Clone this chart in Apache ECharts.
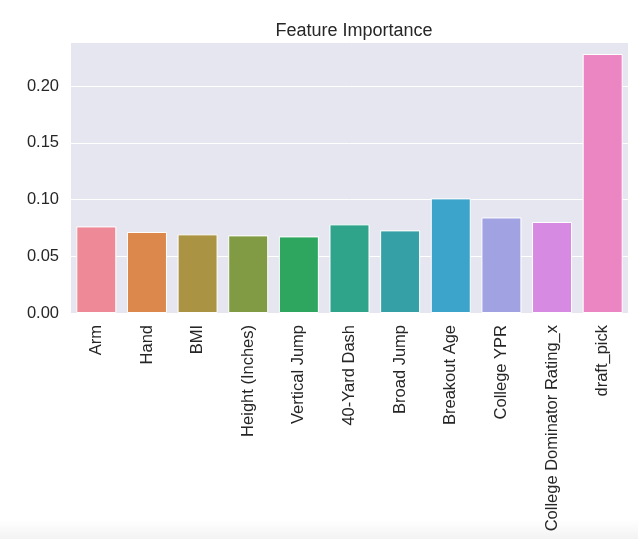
<!DOCTYPE html>
<html><head><meta charset="utf-8">
<script src="https://cdn.jsdelivr.net/npm/echarts@6/dist/echarts.min.js"></script>
<style>html,body{margin:0;padding:0;background:#fff}#c{width:638px;height:539px}</style>
</head><body><div id="c"></div>
<script>
const categories = ["Arm","Hand","BMI","Height (Inches)","Vertical Jump","40-Yard Dash","Broad Jump","Breakout Age","College YPR","College Dominator Rating_x","draft_pick"];
const importance = [0.0763,0.0714,0.0693,0.0684,0.0675,0.0781,0.0728,0.1010,0.0842,0.0802,0.2282];
const barColors = ["#ee8a97","#dc884c","#ab9344","#809b43","#2ea660","#30a38b","#35a0a5","#3ca3cb","#a0a2e2","#d78ae2","#ec86c3"];
const yTicks = [0, 0.05, 0.10, 0.15, 0.20];

const chart = echarts.init(document.getElementById('c'), null, {renderer:'canvas'});
const font = '"Liberation Sans", Arial, Helvetica, sans-serif';
chart.setOption({
  animation:false,
  backgroundColor:'#ffffff',
  title:{text:'Feature Importance', left:349, top:17, textAlign:'center',
    textStyle:{fontFamily:font, fontSize:18, fontWeight:'normal', color:'#262626'}},
  grid:{left:71, right:10, top:42, bottom:226, show:true, backgroundColor:'#e6e6f0', borderWidth:0},
  xAxis:{type:'category', data:categories,
    axisLine:{show:false}, axisTick:{show:false},
    axisLabel:{rotate:90, margin:12, fontFamily:font, fontSize:16.5, color:'#262626'}},
  yAxis:{type:'value', min:0, max:0.2388, interval:0.05,
    axisLine:{show:false}, axisTick:{show:false},
    splitLine:{lineStyle:{color:'#ffffff', width:1}},
    axisLabel:{margin:12, fontFamily:font, fontSize:16.5, color:'#262626',
      formatter:v => yTicks.some(t=>Math.abs(t-v)<1e-9) ? v.toFixed(2) : ''}},
  graphic:[{type:'rect', left:0, top:520, shape:{width:638, height:19}, silent:true,
    style:{fill:new echarts.graphic.LinearGradient(0,0,0,1,[{offset:0,color:'#ffffff'},{offset:1,color:'#f3f3f3'}])}}],
  series:[{type:'bar', barWidth:'79%',
    data:importance.map((v,i)=>({value:v, itemStyle:{color:barColors[i]}})),
    itemStyle:{borderColor:'#ffffff', borderWidth:1}}]
});
</script></body></html>
